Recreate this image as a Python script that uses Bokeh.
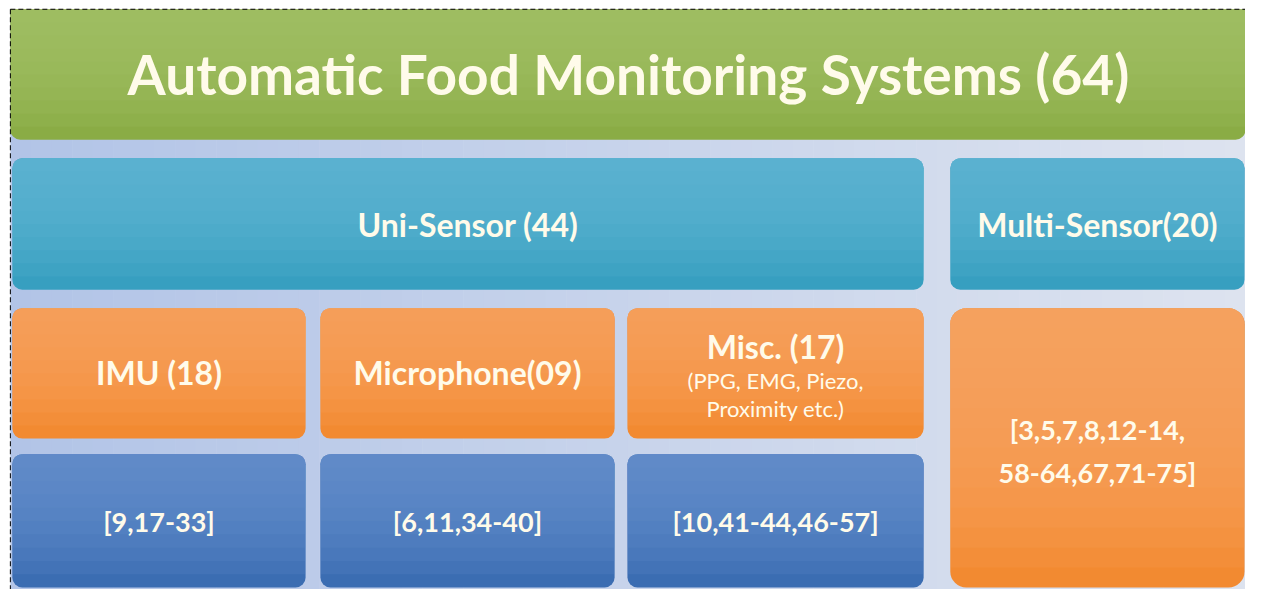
from bokeh.plotting import figure
from bokeh.models import Range1d
from bokeh.embed import file_html
from bokeh.resources import INLINE
from bokeh.core.properties import value

# ---------------- data (labels / counts / references) ----------------
title_label = "Automatic Food Monitoring Systems (64)"
group_labels = ["Uni-Sensor (44)", "Multi-Sensor(20)"]
type_labels = ["IMU (18)", "Microphone(09)", "Misc. (17)"]
misc_note = ["(PPG, EMG, Piezo,", "Proximity etc.)"]
type_refs = ["[9,17-33]", "[6,11,34-40]", "[10,41-44,46-57]"]
multi_refs = ["[3,5,7,8,12-14,", "58-64,67,71-75]"]

# ---------------- layout (reference pixel coordinates) ----------------
col_left = [12, 324, 635]
col_right = [309, 622, 935]
multi_left, multi_right = 962, 1260
row_title = (9, 143)
row_group = (162, 297)
row_type = (316, 450)
row_ref = (466, 603)

# colours: (top, bottom)
GREEN = ("#a6c56c", "#8aac45")
TEAL = ("#66b8d4", "#379fc0")
ORANGE = ("#fca766", "#f28a31")
BLUE = ("#6c95cf", "#3b6db2")
TXT = "#fffbea"
FONT = value("Lato")

W, H = 1245, 589
p = figure(width=W, height=H, output_backend="svg", toolbar_location=None,
           x_range=Range1d(0, 1261), y_range=Range1d(-605, 0),
           min_border=0)
p.axis.visible = False
p.grid.visible = False
p.outline_line_color = None
p.background_fill_color = "white"
p.border_fill_color = "white"

# background horizontal gradient inside the frame
bg_l = (0xb2, 0xc4, 0xe7)
bg_r = (0xdd, 0xe3, 0xef)
n_strips = 60
x0, x1 = 10, 1261
for i in range(n_strips):
    t = i / (n_strips - 1)
    c = tuple(int(round(bg_l[k] + (bg_r[k] - bg_l[k]) * t)) for k in range(3))
    xa = x0 + (x1 - x0) * i / n_strips
    xb = x0 + (x1 - x0) * (i + 1) / n_strips + 0.6
    p.quad(left=xa, right=xb, top=-9, bottom=-606, fill_color="#%02x%02x%02x" % c,
           line_color=None)

R = 10


def box(l, r, t, b, cols, radius=(R, R, R, R), n=10):
    top_c, bot_c = cols
    p.quad(left=l, right=r, top=-t, bottom=-b, fill_color=bot_c, line_color=None,
           border_radius=radius)
    h = b - t
    for i in range(1, n):
        bb = t + h * i / n
        p.quad(left=l, right=r, top=-t, bottom=-bb, fill_color=top_c, fill_alpha=0.17,
               line_color=None, border_radius=(radius[0], radius[1], 0, 0))


# title
box(10, 1261, row_title[0], row_title[1], GREEN, radius=(0, 0, R, R))
# groups
box(col_left[0], col_right[2], row_group[0], row_group[1], TEAL)
box(multi_left, multi_right, row_group[0], row_group[1], TEAL)
# types and refs
for l, r in zip(col_left, col_right):
    box(l, r, row_type[0], row_type[1], ORANGE)
    box(l, r, row_ref[0], row_ref[1], BLUE)
box(multi_left, multi_right, row_type[0], row_ref[1], ORANGE, radius=(16, 16, 16, 16), n=14)

# dashed frame
p.line(x=[10, 1261], y=[-9, -9], line_color="black", line_dash="5 3", line_width=1)
p.line(x=[10, 10], y=[-9, -605], line_color="black", line_dash="5 3", line_width=1)


def label(x, y, txt, size, bold=True):
    p.text(x=[x], y=[-y], text=[txt], text_align="center", text_baseline="middle",
           text_color=TXT, text_font=FONT, text_font_size=size,
           text_font_style="bold" if bold else "normal")


label(636, 76, title_label, "55px")
label((col_left[0] + col_right[2]) / 2, 230, group_labels[0], "32px")
label((multi_left + multi_right) / 2, 230, group_labels[1], "32px")
for i in range(3):
    cx = (col_left[i] + col_right[i]) / 2
    if i < 2:
        label(cx, 382, type_labels[i], "32px")
    else:
        label(cx, 355, type_labels[i], "32px")
        label(cx, 390, misc_note[0], "22px", bold=False)
        label(cx, 419, misc_note[1], "22px", bold=False)
    label(cx, 535, type_refs[i], "27px")
mx = (multi_left + multi_right) / 2
label(mx, 441, multi_refs[0], "27px")
label(mx, 485, multi_refs[1], "27px")

open("out.html", "w").write(file_html(p, INLINE))
